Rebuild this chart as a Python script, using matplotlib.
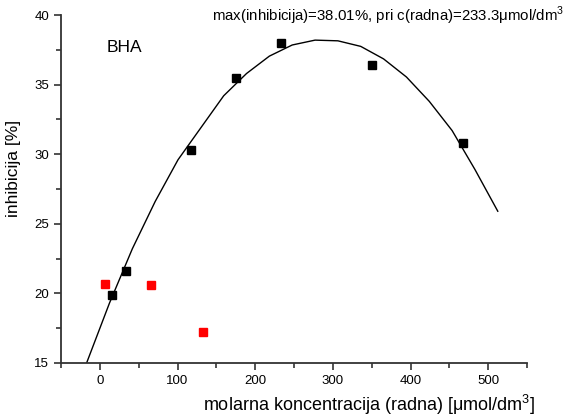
import matplotlib.pyplot as plt
from matplotlib.ticker import MultipleLocator

plt.rcParams.update({
    "font.family": ["Liberation Sans", "DejaVu Sans"],
    "mathtext.fontset": "custom",
    "mathtext.rm": "Liberation Sans",
})

# black points (used in the fit)
conc_black = [16, 33, 117, 175, 233, 350, 467]
inh_black = [19.9, 21.6, 30.3, 35.5, 38.0, 36.4, 30.8]

# red points (left out of the fit)
conc_red = [7, 66, 133]
inh_red = [20.7, 20.6, 17.2]

# fitted curve
fit_x = [-17.0, 12.4, 41.8, 71.2, 100.6, 130.0, 159.4, 188.8, 218.2, 247.6,
         277.0, 306.4, 335.8, 365.2, 394.6, 424.0, 453.4, 482.8, 512.2]
fit_y = [15.0, 19.3, 23.2, 26.6, 29.6, 31.9, 34.2, 35.8, 37.05, 37.85,
         38.2, 38.15, 37.75, 36.85, 35.55, 33.8, 31.7, 28.9, 25.9]

fig = plt.figure(figsize=(5.65, 4.19), dpi=100)
ax = fig.add_axes([0.108, 0.134, 0.825, 0.83])

ax.plot(fit_x, fit_y, color="black", linewidth=1)
ax.plot(conc_black, inh_black, "s", color="black", markersize=5.5)
ax.plot(conc_red, inh_red, "s", color="#ff0000", markersize=5.5)

ax.set_xlim(-50, 550)
ax.set_ylim(15, 40)
ax.xaxis.set_major_locator(MultipleLocator(100))
ax.xaxis.set_minor_locator(MultipleLocator(50))
ax.yaxis.set_major_locator(MultipleLocator(5))
ax.yaxis.set_minor_locator(MultipleLocator(2.5))

for side in ["top", "right"]:
    ax.spines[side].set_visible(False)
for side in ["left", "bottom"]:
    ax.spines[side].set_linewidth(1.3)
    ax.spines[side].set_color("#333333")

ax.tick_params(which="major", direction="out", length=5, width=1.2,
               labelsize=9.5, color="#333333")
ax.tick_params(which="minor", direction="out", length=3.5, width=1.2,
               color="#333333")

ax.set_xlabel(r"molarna koncentracija (radna) [$\mathrm{\mu}$mol/dm$^3$]",
              fontsize=13)
ax.xaxis.set_label_coords(0.66, -0.085)
ax.set_ylabel("inhibicija [%]", fontsize=12.5)
ax.yaxis.set_label_coords(-0.085, 0.56)

ax.text(9, 37.7, "BHA", fontsize=12.5, va="center", ha="left")
fig.text(0.375, 0.963,
         r"max(inhibicija)=38.01%, pri c(radna)=233.3$\mathrm{\mu}$mol/dm$^3$",
         fontsize=10.8, va="center", ha="left")

fig.savefig("out.png", dpi=100)
